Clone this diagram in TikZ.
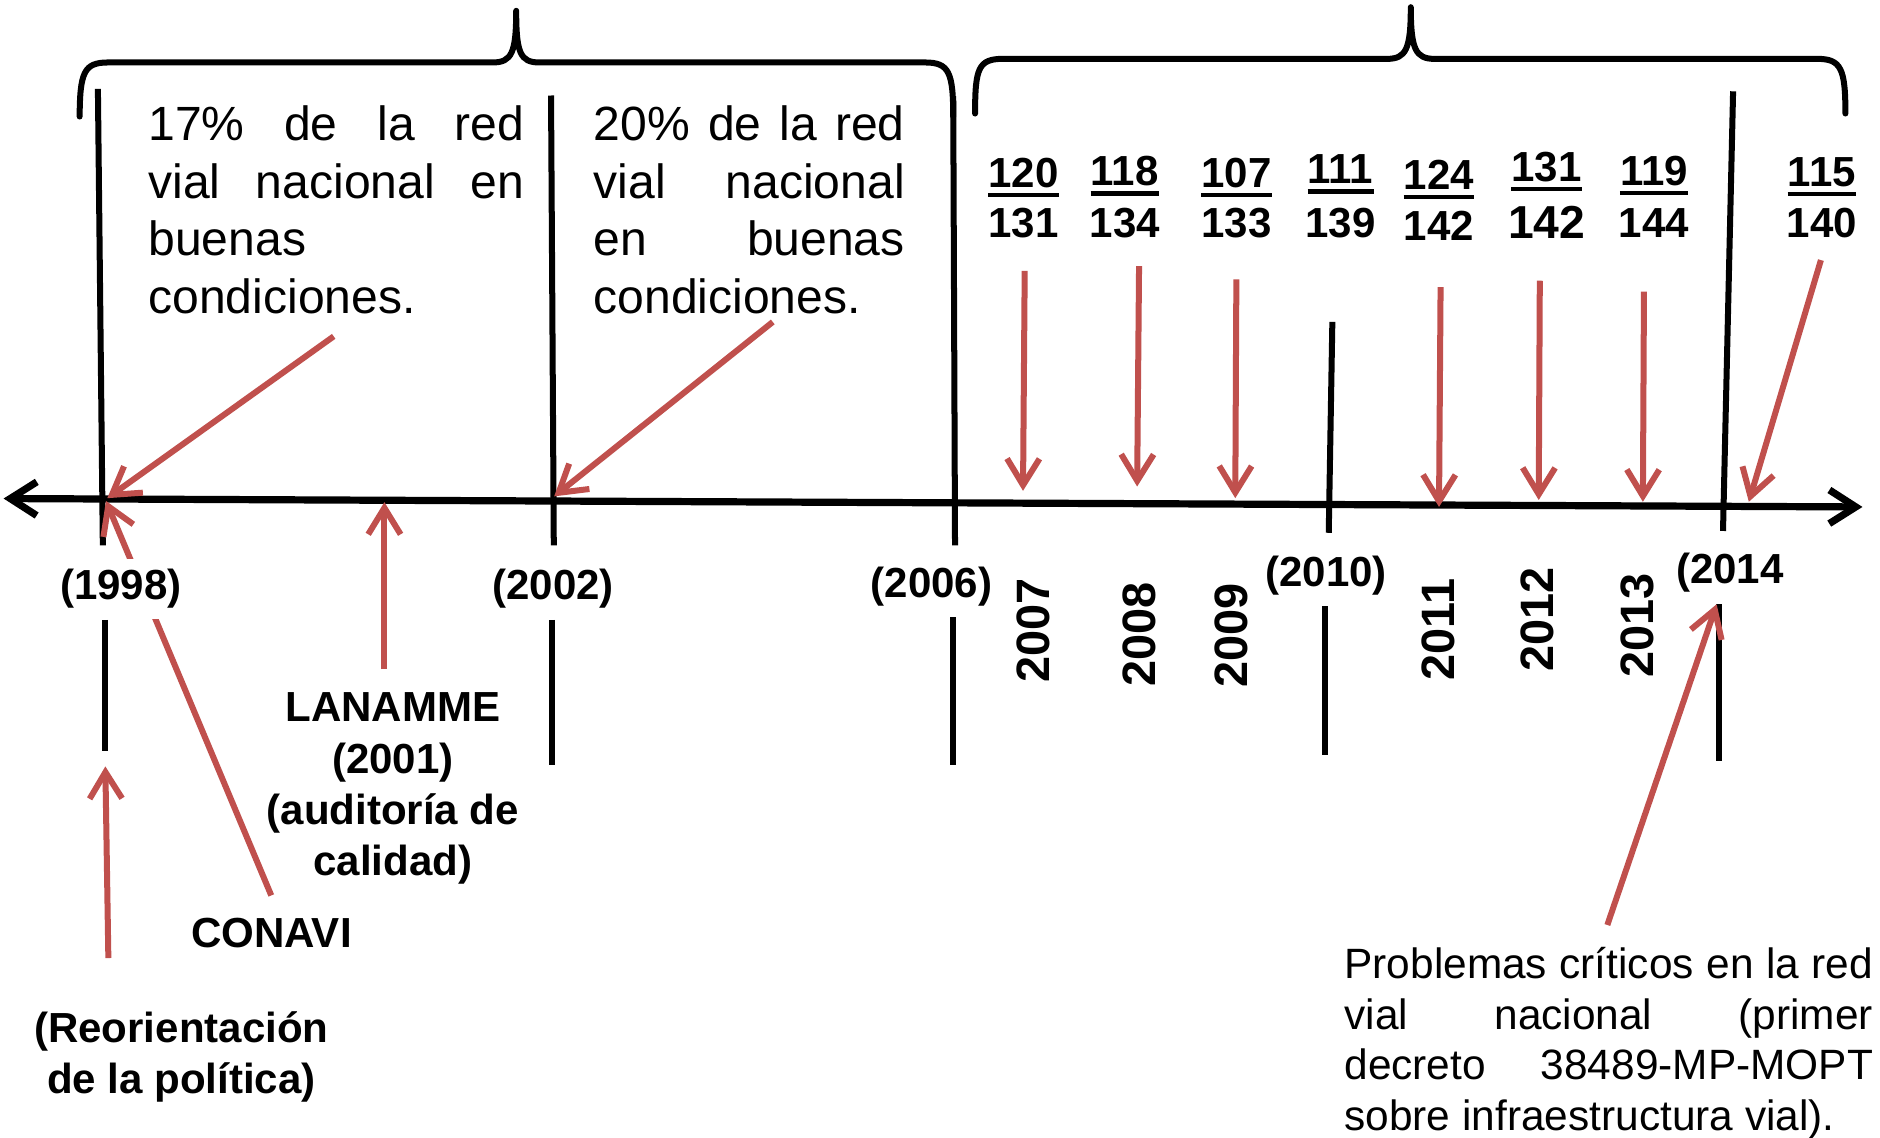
\documentclass[tikz,border=0pt]{standalone}
\usepackage{fontspec}
\setmainfont{Liberation Sans}
\usetikzlibrary{arrows.meta}
\definecolor{myred}{HTML}{C0504D}
\begin{document}
\begin{tikzpicture}[x=1pt,y=-1pt,
  blk/.style={line width=5pt},
  axis/.style={line width=6pt,{Straight Barb[length=22pt,width=28pt]}-{Straight Barb[length=22pt,width=28pt]}},
  rarr/.style={draw=myred,line width=5pt,-{Straight Barb[length=22pt,width=27pt]}},
  brace/.style={line width=5pt,line join=round,line cap=round},
  reg/.style={inner sep=0pt,font=\fontsize{40}{48}\selectfont},
  regs/.style={inner sep=0pt,font=\fontsize{35.3}{42}\selectfont},
  bld/.style={inner sep=0pt,font=\bfseries\fontsize{35}{42.5}\selectfont},
  lbl/.style={bld,anchor=base,fill=white,inner xsep=1pt,inner ysep=9pt},
  yr/.style={inner sep=0pt,font=\bfseries\fontsize{39}{42}\selectfont,rotate=90},
  num/.style={bld,anchor=base},
  uln/.style={line width=3.6pt}
]
\useasboundingbox (0,0) rectangle (1565,947.3);

% braces
\draw[brace] (66.3,97) .. controls (66.5,60) and (70,52) .. (90,52) -- (410,52)
  .. controls (426,52) and (429.7,44) .. (429.7,9)
  .. controls (429.7,44) and (433,52) .. (449,52) -- (770,52)
  .. controls (790,52) and (793.5,60) .. (793.5,97);
\draw[brace] (811.7,94.5) .. controls (811.7,57) and (814.3,49) .. (834.8,49) -- (1154.6,49)
  .. controls (1170.4,49) and (1174.4,41) .. (1174.4,6)
  .. controls (1174.4,41) and (1178.3,49) .. (1194.2,49) -- (1512.7,49)
  .. controls (1532.6,49) and (1536.2,57) .. (1536.2,94.5);

% vertical black lines
\draw[blk] (81.5,74) -- (85.6,454);
\draw[blk] (87.7,516) -- (87.7,625);
\draw[blk] (458.7,79.5) -- (461,454);
\draw[blk] (459.3,516) -- (459.3,636.5);
\draw[blk] (793.5,80) -- (795,454);
\draw[blk] (793.5,514) -- (793.5,636.5);
\draw[blk] (1109.1,268) -- (1106.1,443.5);
\draw[blk] (1102.6,503.6) -- (1102.6,628.3);
\draw[blk] (1442.7,76) -- (1434.3,442);
\draw[blk] (1431.1,503) -- (1431.1,633.5);

% axis
\coordinate (axL) at (3,415);
\coordinate (axR) at (1550.4,422);
\draw[axis] (axL) -- (axR);

% red arrows
\coordinate (s17) at (277.8,280);    \coordinate (t17) at (89.3,414.7);
\coordinate (s20) at (643.3,268);    \coordinate (t20) at (461.3,413.2);
\coordinate (slan) at (320,557);     \coordinate (tlan) at (320,418);
\coordinate (scon) at (225.8,745.4); \coordinate (tcon) at (88.2,417);
\coordinate (sreo) at (90.2,797.5);  \coordinate (treo) at (87.7,638);
\coordinate (s07) at (853,225.5);    \coordinate (t07) at (851.6,408.6);
\coordinate (s08) at (948.2,221.5);  \coordinate (t08) at (946.6,405);
\coordinate (s09) at (1029.2,232.5); \coordinate (t09) at (1028.3,414.7);
\coordinate (s11) at (1199.2,239);   \coordinate (t11) at (1197.9,422);
\coordinate (s12) at (1281.8,233.7); \coordinate (t12) at (1280.9,416.2);
\coordinate (s13) at (1368.5,242.8); \coordinate (t13) at (1367.6,417.7);
\coordinate (s14) at (1515.8,216.5); \coordinate (t14) at (1455.8,417.7);
\coordinate (spro) at (1338,770);    \coordinate (tpro) at (1429,503);
\foreach \a in {17,20,lan,con,reo,07,08,09,11,12,13,14,pro}
  \draw[rarr] (s\a) -- (t\a);

% top paragraphs
\node[reg,anchor=base west] (txt17) at (123.4,117) {\vtop{\hbox to 312.5pt{17\%\hfill de\hfill la\hfill red}\hbox to 312.5pt{vial\hfill nacional\hfill en}\hbox{buenas}\hbox{condiciones.}}};
\node[reg,anchor=base west] (txt20) at (494,117) {\vtop{\hbox to 259pt{20\%\hfill de\hfill la\hfill red}\hbox to 259pt{vial\hfill nacional}\hbox to 259pt{en\hfill buenas}\hbox{condiciones.}}};

% bottom right paragraph
\node[regs,anchor=base west] (txtpro) at (1119,814.8) {\vtop{\hbox to 440pt{Problemas\hfill críticos\hfill en\hfill la\hfill red}\hbox to 440pt{vial\hfill nacional\hfill (primer}\hbox to 440pt{decreto\hfill 38489-MP-MOPT}\hbox{sobre infraestructura vial).}}};

% year labels
\node[lbl] (l1998) at (100.7,499.4) {(1998)};
\node[lbl] (l2002) at (460.5,499.4) {(2002)};
\node[lbl] (l2006) at (775.5,497) {(2006)};
\node[lbl] (l2010) at (1104,488) {(2010)};
\node[bld,anchor=base west] (l2014) at (1395,486) {(2014};

% other bold labels
\node[bld,anchor=base] (lan) at (327,601) {\begin{tabular}[t]{@{}c@{}}LANAMME\\(2001)\\(auditoría de\\calidad)\end{tabular}};
\node[bld,anchor=base] (con) at (226,789) {CONAVI};
\node[bld,anchor=base] (reo) at (151,867.5) {\begin{tabular}[t]{@{}c@{}}(Reorientación\\de la política)\end{tabular}};

% rotated years
\node[yr] (y2007) at (860.4,524.5) {2007};
\node[yr] (y2008) at (948.7,528.5) {2008};
\node[yr] (y2009) at (1025.2,529) {2009};
\node[yr] (y2011) at (1197.2,524) {2011};
\node[yr] (y2012) at (1279.5,515.5) {2012};
\node[yr] (y2013) at (1362.9,521) {2013};

% fractions
\foreach \n/\d/\cx/\nb/\db in {120/131/852/156/198, 118/134/936.3/154.5/197.4, 107/133/1029.3/156/198,
   111/139/1115.9/153/197.4, 124/142/1197.9/157.4/199.8, 119/144/1376.8/154.4/198, 115/140/1516.6/155/198}{
  \node[num] (n\n) at (\cx,\nb) {\n};
  \node[num] (d\n) at (\cx,\db) {\d};
  \draw[uln] ([yshift=-6.5pt]n\n.base west) -- ([yshift=-6.5pt]n\n.base east);
}
\node[num] (n131) at (1287.5,151.4) {131};
\node[num,font=\bfseries\fontsize{38.5}{42}\selectfont] (d131) at (1287.5,198.3) {142};
\draw[uln] ([yshift=-6pt]n131.base west) -- ([yshift=-6pt]n131.base east);
\end{tikzpicture}
\end{document}
